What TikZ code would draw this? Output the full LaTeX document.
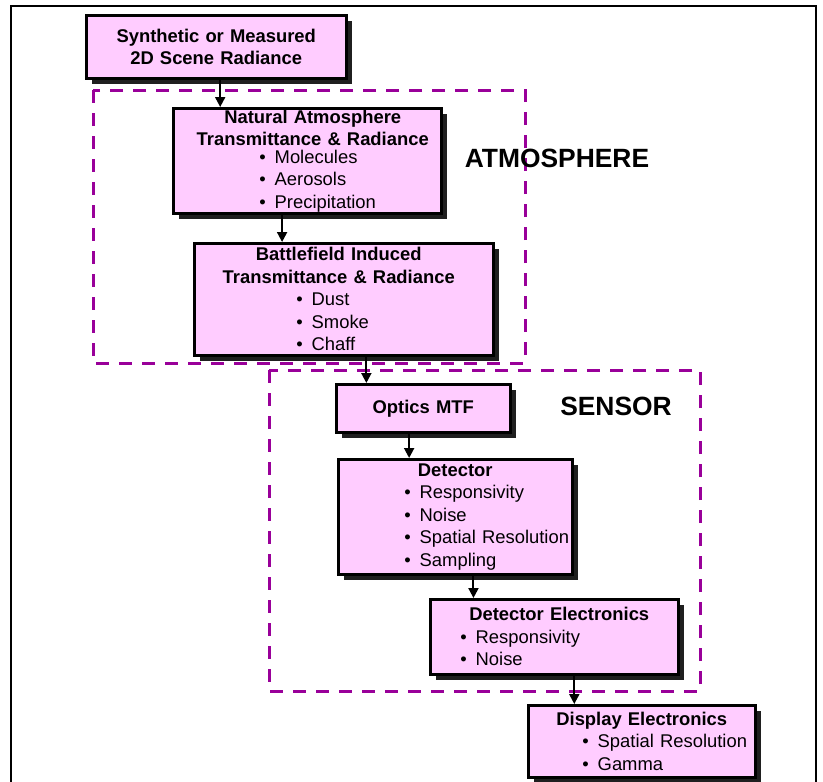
\documentclass[tikz,border=0pt]{standalone}
\usepackage{fontspec}
\setmainfont{Liberation Sans}
\usetikzlibrary{arrows.meta,shadows,calc}
\definecolor{boxpink}{HTML}{FFCCFF}
\definecolor{grpmag}{HTML}{990099}
\tikzset{bx/.style={draw,line width=2.5pt,fill=boxpink,inner sep=0pt,anchor=north west,align=left,
   font=\fontsize{18.4}{22.5}\selectfont,
   drop shadow={shadow xshift=6pt,shadow yshift=-6pt,opacity=1,fill=black!88}},
 grp/.style={draw=grpmag,line width=3pt,dash pattern=on 13pt off 10pt},
 ar/.style={line width=2pt,-{Triangle[length=10pt,width=10pt]}},
 tag/.style={font=\fontsize{26.4}{30}\selectfont\bfseries,anchor=base}}
\newcommand{\hd}[2][0pt]{\makebox[\linewidth]{\hspace*{#1}\bfseries #2}}
\newcommand{\bul}[2]{\hspace*{#1}\textbullet\hspace{9pt}#2}

\begin{document}
\begin{tikzpicture}[x=1pt,y=-1pt]
\useasboundingbox (0,0) rectangle (823,782);
\draw[line width=2.5pt] (11,786) -- (11,6) -- (816,6) -- (816,786);
% dashed groups
\draw[grp] (93,90) rectangle (525,363);
\draw[grp] (269,370) rectangle (700,691);
\node[tag](atmtag) at (557,167){ATMOSPHERE};
\node[tag](sentag) at (616,415){SENSOR};
% boxes
\node[bx,text width=260,minimum height=63](syn) at (85,14){\hd{Synthetic or Measured}\\\hd{2D Scene Radiance}};
\node[bx,text width=268,minimum height=105](nat) at (172,107){\hd[11pt]{Natural Atmosphere}\\\hd[11pt]{Transmittance \& Radiance}\\[-5pt]
  \bul{86pt}{Molecules}\\\bul{86pt}{Aerosols}\\\bul{86pt}{Precipitation}};
\node[bx,text width=299,minimum height=112](bat) at (193,242){\hd[-10pt]{Battlefield Induced}\\\hd[-10pt]{Transmittance \& Radiance}\\
  \bul{102pt}{Dust}\\\bul{102pt}{Smoke}\\\bul{102pt}{Chaff}};
\node[bx,text width=174,minimum height=48](opt) at (335,383){\hd{Optics MTF}};
\node[bx,text width=234,minimum height=115](det) at (337,458){\hd{Detector}\\\bul{66pt}{Responsivity}\\\bul{66pt}{Noise}\\
  \bul{66pt}{Spatial Resolution}\\\bul{66pt}{Sampling}};
\node[bx,text width=248,minimum height=75](dee) at (429,598){\hd[10pt]{Detector Electronics}\\\bul{30pt}{Responsivity}\\\bul{30pt}{Noise}};
\node[bx,text width=227,minimum height=72](dis) at (527,704){\hd{Display Electronics}\\\bul{54pt}{Spatial Resolution}\\\bul{54pt}{Gamma}};
% arrows
\coordinate(a1) at ($(syn.south west)!0.515!(syn.south east)$);
\coordinate(a2) at ($(nat.south west)!0.407!(nat.south east)$);
\coordinate(a3) at ($(bat.south west)!0.575!(bat.south east)$);
\coordinate(a4) at ($(opt.south west)!0.42!(opt.south east)$);
\coordinate(a5) at ($(det.south west)!0.577!(det.south east)$);
\coordinate(a6) at ($(dee.south west)!0.58!(dee.south east)$);
\draw[ar](a1)--(a1|-nat.north);\draw[ar](a2)--(a2|-bat.north);\draw[ar](a3)--(a3|-opt.north);
\draw[ar](a4)--(a4|-det.north);\draw[ar](a5)--(a5|-dee.north);\draw[ar](a6)--(a6|-dis.north);
\end{tikzpicture}
\end{document}
